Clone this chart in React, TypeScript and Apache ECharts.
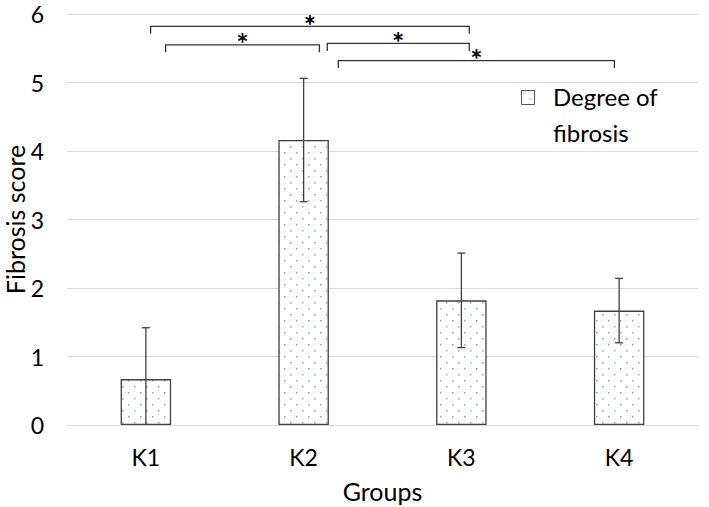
import React, { useEffect, useRef } from "react";
import * as echarts from "echarts";

const categories = ["K1", "K2", "K3", "K4"];
const meanValues = [0.67, 4.16, 1.82, 1.67];
const sdValues = [0.75, 0.9, 0.69, 0.47];
const yTicks = [0, 1, 2, 3, 4, 5, 6];

// significance brackets
const bracketFrom = [0, 0, 1, 1];
const bracketTo = [2, 1, 2, 3];
const bracketFromOffset = [0.03, 0.125, 0.15, 0.22];
const bracketToOffset = [0.05, 0.1, 0.05, -0.03];
const bracketY = [5.82, 5.55, 5.57, 5.32];
const bracketLabels = ["*", "*", "*", "*"];

const FONT = "Lato";

function makePattern(): string {
  const c = document.createElement("canvas");
  c.width = 12;
  c.height = 12;
  const ctx = c.getContext("2d")!;
  ctx.fillStyle = "#ffffff";
  ctx.fillRect(0, 0, 12, 12);
  ctx.fillStyle = "#8aa8d0";
  ctx.fillRect(2, 2, 1.5, 1.5);
  ctx.fillRect(8, 8, 1.5, 1.5);
  return c.toDataURL();
}

export default function App() {
  const ref = useRef<HTMLDivElement>(null);
  useEffect(() => {
    if (!ref.current) return;
    const chart = echarts.init(ref.current, undefined, { renderer: "svg" });
    const patternUrl = makePattern();
    const pattern = { image: patternUrl, repeat: "repeat" } as any;

    const errData = categories.map((_, i) => [i, meanValues[i], sdValues[i]]);
    const bracketData = bracketFrom.map((f, i) => [
      f,
      bracketTo[i],
      bracketFromOffset[i],
      bracketToOffset[i],
      bracketY[i],
    ]);

    chart.setOption({
      animation: false,
      backgroundColor: "#ffffff",
      grid: {
        left: 67,
        right: 11,
        top: 14,
        bottom: 82,
        containLabel: false,
        outerBoundsMode: "none",
      },
      xAxis: {
        type: "category",
        data: categories,
        axisLine: { show: true, lineStyle: { color: "#d9d9d9", width: 1 } },
        axisTick: { show: false },
        axisLabel: {
          color: "#000",
          fontFamily: FONT,
          fontSize: 23,
          margin: 20,
        },
        name: "Groups",
        nameLocation: "middle",
        nameGap: 53,
        nameMoveOverlap: false,
        nameTextStyle: { color: "#000", fontFamily: FONT, fontSize: 25 },
      },
      yAxis: {
        type: "value",
        min: yTicks[0],
        max: yTicks[yTicks.length - 1],
        interval: 1,
        axisLine: { show: false },
        axisTick: { show: false },
        splitLine: { lineStyle: { color: "#d9d9d9", width: 1 } },
        axisLabel: {
          color: "#000",
          fontFamily: FONT,
          fontSize: 23,
          margin: 23,
        },
        name: "Fibrosis score",
        nameLocation: "middle",
        nameGap: 40,
        nameMoveOverlap: false,
        nameTextStyle: { color: "#000", fontFamily: FONT, fontSize: 25 },
      },
      series: [
        {
          type: "bar",
          data: meanValues,
          barWidth: "32%",
          itemStyle: {
            color: pattern,
            borderColor: "#404040",
            borderWidth: 1.3,
          },
        },
        {
          type: "custom",
          data: errData,
          z: 5,
          renderItem: (params: any, api: any) => {
            const idx = api.value(0);
            const v = api.value(1);
            const sd = api.value(2);
            const hi = v + sd;
            const lo = Math.max(0, v - sd);
            const pHi = api.coord([idx, hi]);
            const pLo = api.coord([idx, lo]);
            const x = pHi[0];
            const cap = 4;
            const style = { stroke: "#404040", lineWidth: 1.3 };
            const children: any[] = [
              { type: "line", shape: { x1: x, y1: pHi[1], x2: x, y2: pLo[1] }, style },
              { type: "line", shape: { x1: x - cap, y1: pHi[1], x2: x + cap, y2: pHi[1] }, style },
            ];
            if (v - sd > 0) {
              children.push({
                type: "line",
                shape: { x1: x - cap, y1: pLo[1], x2: x + cap, y2: pLo[1] },
                style,
              });
            }
            return { type: "group", children };
          },
        },
        {
          type: "custom",
          data: bracketData,
          z: 6,
          clip: false,
          renderItem: (params: any, api: any) => {
            const f = api.value(0);
            const t = api.value(1);
            const fo = api.value(2);
            const to = api.value(3);
            const y = api.value(4);
            const band = api.size([1, 0])[0];
            const x1 = api.coord([f, y])[0] + fo * band;
            const x2 = api.coord([t, y])[0] + to * band;
            const yp = api.coord([f, y])[1];
            const yt = api.coord([f, y - 0.11])[1];
            const style = { stroke: "#333333", lineWidth: 1.3, fill: "none" };
            return {
              type: "group",
              children: [
                {
                  type: "polyline",
                  shape: { points: [[x1, yt], [x1, yp], [x2, yp], [x2, yt]] },
                  style,
                },
                {
                  type: "text",
                  x: (x1 + x2) / 2,
                  y: yp - 2,
                  style: {
                    text: bracketLabels[params.dataIndex],
                    fill: "#000",
                    fontFamily: FONT,
                    fontSize: 29,
                    fontWeight: "bold",
                    align: "center",
                    verticalAlign: "middle",
                  },
                },
              ],
            };
          },
        },
      ],
      graphic: [
        {
          type: "rect",
          left: 521,
          top: 90,
          shape: { width: 13, height: 14 },
          style: { fill: pattern, stroke: "#555", lineWidth: 1 },
        },
        {
          type: "text",
          left: 553,
          top: 84,
          style: {
            text: "Degree of",
            fill: "#000",
            fontFamily: FONT,
            fontSize: 24,
          },
        },
        {
          type: "text",
          left: 553,
          top: 120,
          style: {
            text: "fibrosis",
            fill: "#000",
            fontFamily: FONT,
            fontSize: 24,
          },
        },
      ],
    });
    return () => chart.dispose();
  }, []);
  return <div ref={ref} style={{ width: 709, height: 507, position: "absolute", left: 0, top: 0 }} />;
}
